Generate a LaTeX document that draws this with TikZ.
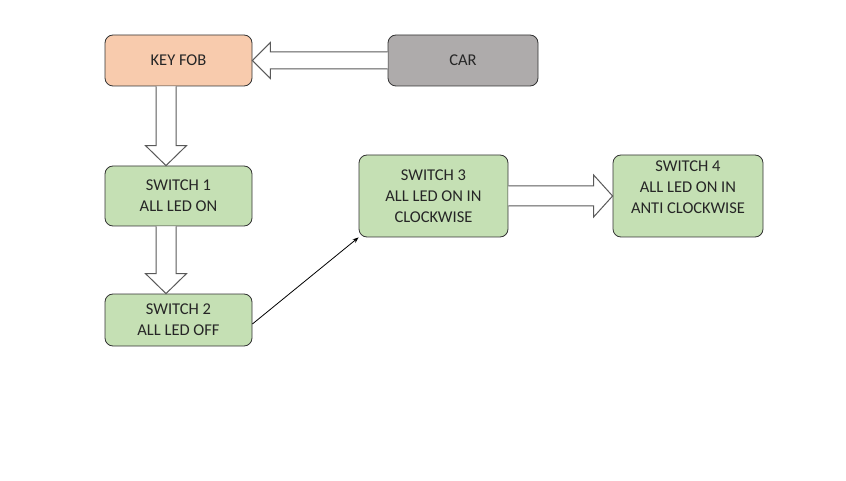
\documentclass[tikz,border=0pt]{standalone}
\usepackage{fontspec}
\setmainfont{Carlito}
\usetikzlibrary{calc,arrows.meta}

\definecolor{fobfill}{HTML}{F8CBAD}
\definecolor{carfill}{HTML}{AEABAB}
\definecolor{swfill}{HTML}{C5E0B4}
\definecolor{boxline}{HTML}{333333}
\definecolor{arrline}{HTML}{595959}

% hollow block arrows, #1 = start, #2 = tip
\newcommand{\fatdown}[2]{%
  \draw[fat] ($(#1)+(-10,0)$) -- ($(#2)+(-10,-20)$) -- ($(#2)+(-20.5,-20)$) -- (#2)
    -- ($(#2)+(20.5,-20)$) -- ($(#2)+(10,-20)$) -- ($(#1)+(10,0)$);}
\newcommand{\fatleft}[2]{%
  \draw[fat] ($(#1)+(0,-8.5)$) -- ($(#2)+(18,-8.5)$) -- ($(#2)+(18,-18)$) -- (#2)
    -- ($(#2)+(18,18)$) -- ($(#2)+(18,8.5)$) -- ($(#1)+(0,8.5)$);}
\newcommand{\fatright}[2]{%
  \draw[fat] ($(#1)+(0,-10)$) -- ($(#2)+(-19,-10)$) -- ($(#2)+(-19,-21)$) -- (#2)
    -- ($(#2)+(-19,21)$) -- ($(#2)+(-19,10)$) -- ($(#1)+(0,10)$);}

\begin{document}
\begin{tikzpicture}[x=1pt,y=-1pt,
    box/.style={draw=boxline, line width=0.8pt, rounded corners=8pt, align=center,
      text=black!85, font=\fontsize{16.5}{21}\selectfont, inner sep=0pt},
    fat/.style={draw=arrline, fill=white, line width=1pt, line join=miter}]
\useasboundingbox (0,0) rectangle (846,481);

% boxes
\node (kf) at (178.5,60.5) [box, fill=fobfill, minimum width=147, minimum height=51] {KEY FOB};
\node (car) at (463,60.5) [box, fill=carfill, minimum width=150, minimum height=51] {CAR};
\node (s1) at (178.5,196) [box, fill=swfill, minimum width=147, minimum height=60] {SWITCH 1\\ALL LED ON};
\node (s2) at (178.5,320) [box, fill=swfill, minimum width=147, minimum height=52] {SWITCH 2\\ALL LED OFF};
\node (s3) at (433.5,196) [box, fill=swfill, minimum width=149, minimum height=82] {SWITCH 3\\ALL LED ON IN\\CLOCKWISE};
\node (s4) at (688,196) [box, fill=swfill, minimum width=150, minimum height=82] {SWITCH 4\\ALL LED ON IN\\ANTI CLOCKWISE\\[-10pt]\strut};

% arrows
\coordinate (d1a) at ([xshift=-12.5pt]kf.south);
\coordinate (d1b) at ([xshift=-12.5pt]s1.north);
\coordinate (d2a) at ([xshift=-12.5pt]s1.south);
\coordinate (d2b) at ([xshift=-12.5pt]s2.north);
\fatleft{car.west}{kf.east}
\fatdown{d1a}{d1b}
\fatdown{d2a}{d2b}
\fatright{s3.east}{s4.west}
\draw[black, line width=0.8pt, -{Stealth[length=6pt,width=4.5pt]}] ([yshift=-4pt]s2.east) -- (s3.south west);
\end{tikzpicture}
\end{document}
